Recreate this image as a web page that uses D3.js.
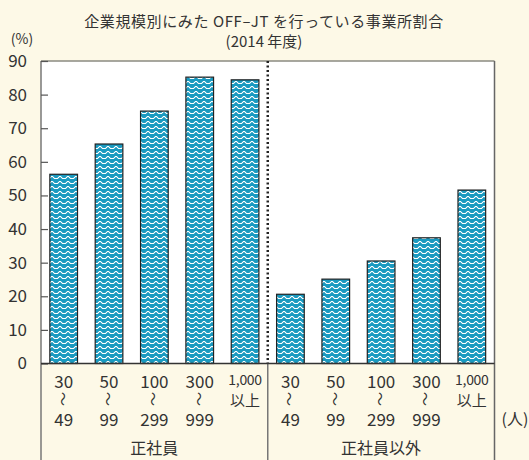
<!DOCTYPE html>
<html><head><meta charset="utf-8">
<script src="https://cdn.jsdelivr.net/npm/d3@7"></script>
<style>
html,body{margin:0;padding:0;background:#fdf9e7;}
text{font-family:"Noto Sans CJK JP","Noto Sans",sans-serif;fill:#333;}
</style></head>
<body>
<svg id="chart" width="529" height="460"></svg>
<script>
const titleLines = ["企業規模別にみた OFF–JT を行っている事業所割合", "(2014 年度)"];
const groups = ["正社員", "正社員以外"];
const sizeTop = ["30", "50", "100", "300", "1,000"];
const sizeBottom = ["49", "99", "299", "999", ""];
const values正社員 = [56.3, 65.3, 75.1, 85.2, 84.4];
const values正社員以外 = [20.6, 25.1, 30.5, 37.4, 51.6];
const yTicks = [0, 10, 20, 30, 40, 50, 60, 70, 80, 90];

const data = [];
groups.forEach((g, gi) => {
  const vals = gi === 0 ? values正社員 : values正社員以外;
  sizeTop.forEach((s, i) => data.push({key: g + "-" + i, group: g, top: s, bottom: sizeBottom[i], value: vals[i], idx: i}));
});

const svg = d3.select("#chart");
const L = 41, R = 494.5, T = 61, B = 363.5;
svg.append("rect").attr("width", 529).attr("height", 460).attr("fill", "#fdf9e7");

const defs = svg.append("defs");
const pat = defs.append("pattern").attr("id", "zig").attr("patternUnits", "userSpaceOnUse")
  .attr("width", 8).attr("height", 5);
pat.append("rect").attr("width", 8).attr("height", 5).attr("fill", "#1a9ac0");
pat.append("path").attr("d", "M0,3.5 L2,3.5 L2,2.5 L3,2.5 L3,1.5 L5,1.5 L5,2.5 L6,2.5 L6,3.5 L8,3.5")
  .attr("fill", "none").attr("stroke", "#ffffff").attr("stroke-width", 1);

const y = d3.scaleLinear().domain([0, 90]).range([B, T]);
const x = d3.scaleBand().domain(data.map(d => d.key)).range([L, R]).paddingInner(0.39).paddingOuter(0.195);

svg.append("rect").attr("x", L).attr("y", T).attr("width", R - L).attr("height", B - T).attr("fill", "#ffffff");

svg.append("g").selectAll("rect").data(data).join("rect")
  .attr("x", d => x(d.key)).attr("y", d => y(d.value))
  .attr("width", x.bandwidth()).attr("height", d => B - y(d.value))
  .attr("fill", "url(#zig)").attr("stroke", "#222").attr("stroke-width", 1.2);

svg.append("line").attr("x1", L).attr("x2", R).attr("y1", T).attr("y2", T).attr("stroke", "#8a8a80").attr("stroke-width", 1.5);
svg.append("line").attr("x1", R).attr("x2", R).attr("y1", T).attr("y2", 460).attr("stroke", "#666").attr("stroke-width", 1.5);
svg.append("line").attr("x1", L).attr("x2", L).attr("y1", T).attr("y2", 460).attr("stroke", "#777").attr("stroke-width", 1.5);
const mid = (L + R) / 2;
svg.append("line").attr("x1", mid).attr("x2", mid).attr("y1", B).attr("y2", 460).attr("stroke", "#777").attr("stroke-width", 1.5);
svg.append("line").attr("x1", mid).attr("x2", mid).attr("y1", T).attr("y2", B).attr("stroke", "#222").attr("stroke-width", 2.5).attr("stroke-dasharray", "2,2.5");

const yAxis = d3.axisLeft(y).tickValues(yTicks).tickSize(-7).tickPadding(14);
const ya = svg.append("g").attr("transform", `translate(${L},0)`).call(yAxis);
ya.select(".domain").remove();
ya.selectAll(".tick line").attr("stroke", "#555").attr("stroke-width", 1.2);
ya.selectAll(".tick text").attr("font-size", 17).attr("fill", "#333")
  .style("font-family", '"Noto Sans CJK JP","Noto Sans",sans-serif');

svg.append("line").attr("x1", L).attr("x2", R).attr("y1", B).attr("y2", B).attr("stroke", "#333").attr("stroke-width", 1.5);

const cat = svg.append("g").selectAll("g").data(data).join("g")
  .attr("transform", d => `translate(${x(d.key) + x.bandwidth() / 2},0)`);
cat.append("text").attr("y", d => d.top.length > 3 ? 379 : 380).attr("text-anchor", "middle").attr("dominant-baseline", "central")
  .attr("font-size", d => d.top.length > 3 ? 14 : 17)
  .attr("letter-spacing", d => d.top.length > 3 ? -0.3 : 0).text(d => d.top);
cat.filter(d => d.bottom !== "").append("text")
  .attr("transform", "translate(0,399) rotate(90)")
  .attr("text-anchor", "middle").attr("dominant-baseline", "central").attr("font-size", 14).text("〜");
cat.append("text").attr("y", d => d.bottom === "" ? 399 : 418).attr("text-anchor", "middle").attr("dominant-baseline", "central")
  .attr("font-size", d => d.bottom === "" ? 15 : 17).text(d => d.bottom === "" ? "以上" : d.bottom);

groups.forEach((g, gi) => {
  svg.append("text").attr("x", gi === 0 ? (L + mid) / 2 : (mid + R) / 2).attr("y", 447)
    .attr("text-anchor", "middle").attr("dominant-baseline", "central").attr("font-size", 16).text(g);
});

titleLines.forEach((t, i) => {
  svg.append("text").attr("x", 264).attr("y", 20 + i * 20).attr("text-anchor", "middle")
    .attr("dominant-baseline", "central").attr("font-size", 15).attr("letter-spacing", i === 0 ? 0.6 : 0).text(t);
});
svg.append("text").attr("x", 22).attr("y", 38).attr("text-anchor", "middle").attr("dominant-baseline", "central").attr("font-size", 14).text("(%)");
svg.append("text").attr("x", 515).attr("y", 418).attr("text-anchor", "middle").attr("dominant-baseline", "central").attr("font-size", 16).text("(人)");
</script>
</body></html>
